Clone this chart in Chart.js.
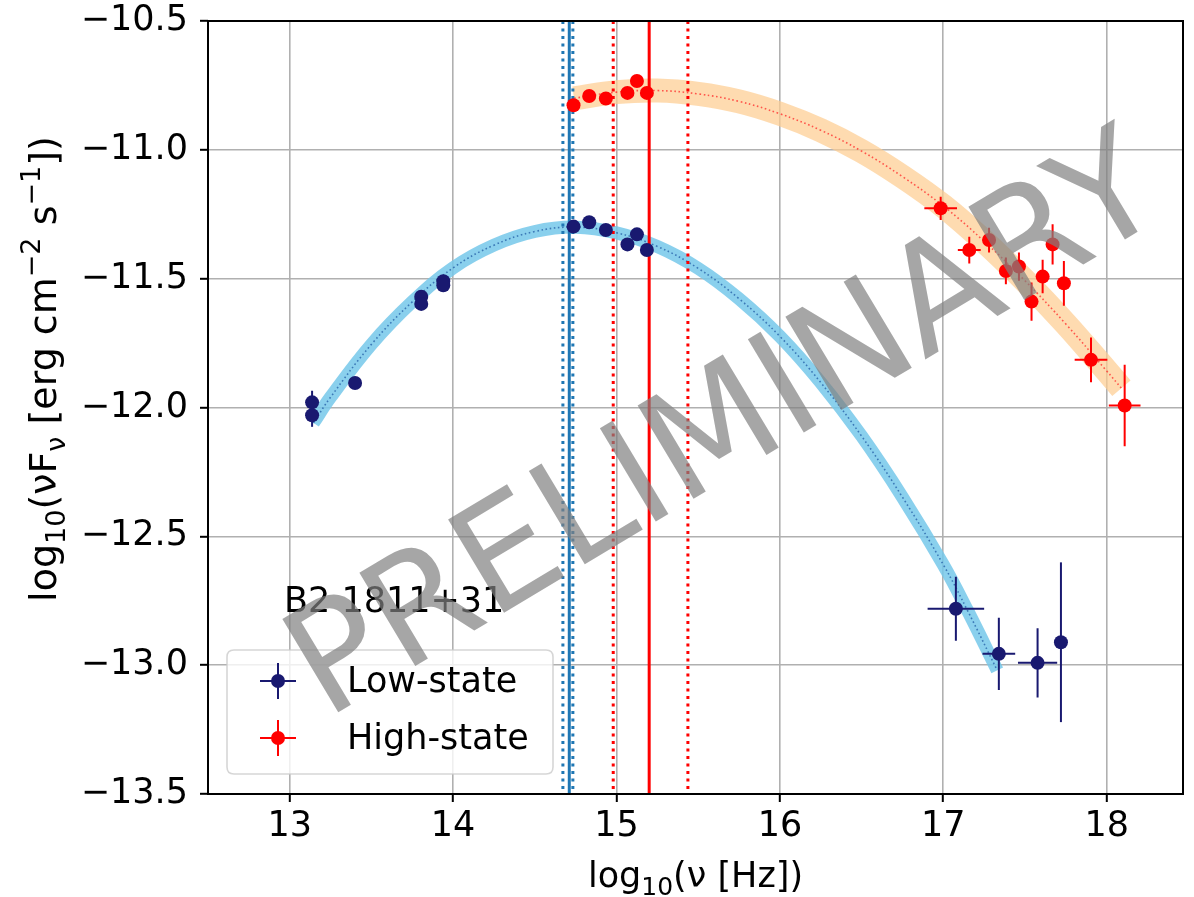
<!DOCTYPE html>
<html>
<head>
<meta charset="utf-8">
<title>B2 1811+31 SED</title>
<script src="https://cdn.jsdelivr.net/npm/chart.js@4.4.1/dist/chart.umd.min.js"></script>
<style>
  html, body { margin: 0; padding: 0; background: #ffffff; }
  canvas { display: block; }
</style>
</head>
<body>
<canvas id="sed" width="1194" height="897" style="width:1194px;height:897px"></canvas>
<script>
// ---- Low-state SED points: log10(nu [Hz]) vs log10(nuFnu [erg cm^-2 s^-1]) ----
const lowNu    = [13.137, 13.137, 13.40, 13.805, 13.805, 13.94, 13.94, 14.737, 14.833, 14.935, 15.067, 15.125, 15.186, 17.077, 17.34, 17.577, 17.72];
const lowFlux  = [-11.98, -12.03, -11.905, -11.57, -11.598, -11.51, -11.526, -11.298, -11.281, -11.311, -11.367, -11.328, -11.389, -12.781, -12.956, -12.991, -12.911];
const lowNuErr = [0, 0, 0, 0, 0, 0, 0, 0, 0, 0, 0, 0, 0, 0.173, 0.10, 0.12, 0];
const lowFlErr = [0.045, 0.045, 0, 0, 0, 0, 0, 0, 0, 0, 0, 0, 0, 0.124, 0.14, 0.134, 0.31];

// ---- High-state SED points ----
const highNu    = [14.737, 14.833, 14.935, 15.067, 15.125, 15.186, 16.984, 17.159, 17.28, 17.383, 17.463, 17.54, 17.608, 17.669, 17.738, 17.904, 18.11];
const highFlux  = [-10.827, -10.791, -10.801, -10.779, -10.733, -10.779, -11.227, -11.389, -11.35, -11.47, -11.453, -11.589, -11.492, -11.367, -11.518, -11.815, -11.992];
const highNuErr = [0, 0, 0, 0, 0, 0, 0.10, 0.07, 0.03, 0.03, 0.03, 0.03, 0.03, 0.03, 0.03, 0.10, 0.097];
const highFlErr = [0, 0, 0, 0, 0, 0, 0.045, 0.052, 0.048, 0.052, 0.055, 0.074, 0.065, 0.078, 0.087, 0.087, 0.158];

// ---- Synchrotron fit curves (sampled along the fitted model) ----
const lowFitNu   = [13.145, 13.25, 13.50, 13.75, 14.00, 14.25, 14.50, 14.75, 15.00, 15.25, 15.50, 15.75, 16.00, 16.25, 16.50, 16.75, 17.00, 17.15, 17.33];
const lowFitFlux = [-12.06, -11.96, -11.755, -11.59, -11.458, -11.37, -11.317, -11.30, -11.322, -11.375, -11.46, -11.578, -11.724, -11.903, -12.111, -12.348, -12.61, -12.79, -13.02];
const highFitNu   = [14.74, 15.00, 15.25, 15.50, 15.75, 16.00, 16.25, 16.50, 16.75, 17.00, 17.25, 17.50, 17.75, 18.00, 18.09];
const highFitFlux = [-10.80, -10.776, -10.77, -10.783, -10.812, -10.86, -10.924, -11.005, -11.104, -11.218, -11.355, -11.508, -11.676, -11.858, -11.925];

// ---- Synchrotron peak frequency (best value, lower, upper) ----
const lowPeak  = [14.711, 14.672, 14.733];
const highPeak = [15.20, 14.98, 15.437];

// ---- Axis ranges and ticks ----
const xRange = [12.5, 18.467];
const yRange = [-13.5, -10.5];
const xTicks = [13, 14, 15, 16, 17, 18];
const yTicks = [-13.5, -13.0, -12.5, -12.0, -11.5, -11.0, -10.5];

const sourceName = 'B2 1811+31';
const seriesNames = ['Low-state', 'High-state'];
const watermark = 'PRELIMINARY';

const FONT = "'DejaVu Sans', 'Liberation Sans', sans-serif";
const LOW_COLOR = '#191970';
const HIGH_COLOR = '#ff0000';

const zip = (xs, ys) => xs.map((x, i) => ({ x, y: ys[i] }));
const vline = v => [{ x: v, y: yRange[1] }, { x: v, y: yRange[0] }];

const datasets = [
  // fit bands
  { label: 'high fit band', data: zip(highFitNu, highFitFlux), showLine: true, pointRadius: 0,
    borderColor: 'rgba(253,205,145,0.72)', borderWidth: 24, borderCapStyle: 'butt', borderJoinStyle: 'round',
    tension: 0.4, order: 20 },
  { label: 'low fit band', data: zip(lowFitNu, lowFitFlux), showLine: true, pointRadius: 0,
    borderColor: 'rgba(118,200,234,0.85)', borderWidth: 13, borderCapStyle: 'butt', borderJoinStyle: 'round',
    tension: 0.4, order: 19 },
  // fit centre lines
  { label: 'high fit', data: zip(highFitNu, highFitFlux), showLine: true, pointRadius: 0,
    borderColor: 'rgba(255,40,40,0.75)', borderWidth: 1.6, borderDash: [1.6, 2.6],
    tension: 0.4, order: 18 },
  { label: 'low fit', data: zip(lowFitNu, lowFitFlux), showLine: true, pointRadius: 0,
    borderColor: 'rgba(40,100,170,0.8)', borderWidth: 1.6, borderDash: [1.6, 2.6],
    tension: 0.4, order: 17 },
  // peak frequency markers
  { label: 'low peak', data: vline(lowPeak[0]), showLine: true, pointRadius: 0,
    borderColor: '#1f77b4', borderWidth: 3, order: 15 },
  { label: 'low peak lo', data: vline(lowPeak[1]), showLine: true, pointRadius: 0,
    borderColor: '#1f77b4', borderWidth: 3, borderDash: [3, 4.5], order: 15 },
  { label: 'low peak hi', data: vline(lowPeak[2]), showLine: true, pointRadius: 0,
    borderColor: '#1f77b4', borderWidth: 3, borderDash: [3, 4.5], order: 15 },
  { label: 'high peak', data: vline(highPeak[0]), showLine: true, pointRadius: 0,
    borderColor: HIGH_COLOR, borderWidth: 3, order: 14 },
  { label: 'high peak lo', data: vline(highPeak[1]), showLine: true, pointRadius: 0,
    borderColor: HIGH_COLOR, borderWidth: 3, borderDash: [3, 4.5], order: 14 },
  { label: 'high peak hi', data: vline(highPeak[2]), showLine: true, pointRadius: 0,
    borderColor: HIGH_COLOR, borderWidth: 3, borderDash: [3, 4.5], order: 14 },
  // measurements
  { label: seriesNames[0], data: zip(lowNu, lowFlux), xErr: lowNuErr, yErr: lowFlErr,
    pointRadius: 7, pointBorderWidth: 0, backgroundColor: LOW_COLOR, borderColor: LOW_COLOR, order: 2 },
  { label: seriesNames[1], data: zip(highNu, highFlux), xErr: highNuErr, yErr: highFlErr,
    pointRadius: 7, pointBorderWidth: 0, backgroundColor: HIGH_COLOR, borderColor: HIGH_COLOR, order: 1 }
];

// error bars drawn just below each measurement series
const errorBars = {
  id: 'errorBars',
  beforeDatasetDraw(chart, args) {
    const ds = chart.data.datasets[args.index];
    if (!ds.xErr) return;
    const { ctx } = chart;
    const xs = chart.scales.x, ys = chart.scales.y;
    ctx.save();
    ctx.strokeStyle = ds.borderColor;
    ctx.lineWidth = 2;
    ds.data.forEach((p, i) => {
      const px = xs.getPixelForValue(p.x), py = ys.getPixelForValue(p.y);
      const ex = ds.xErr[i], ey = ds.yErr[i];
      ctx.beginPath();
      if (ex) { ctx.moveTo(xs.getPixelForValue(p.x - ex), py); ctx.lineTo(xs.getPixelForValue(p.x + ex), py); }
      if (ey) { ctx.moveTo(px, ys.getPixelForValue(p.y - ey)); ctx.lineTo(px, ys.getPixelForValue(p.y + ey)); }
      ctx.stroke();
    });
    ctx.restore();
  }
};

function segFont(s, size) {
  return ((s.sub || s.sup) ? Math.round(size * 0.7) : size) + 'px ' + FONT;
}
function drawRich(ctx, segs, cx, baseline, size) {
  let w = 0;
  for (const s of segs) { ctx.font = segFont(s, size); w += ctx.measureText(s.t).width; }
  let x = cx - w / 2;
  ctx.textAlign = 'left';
  ctx.textBaseline = 'alphabetic';
  for (const s of segs) {
    ctx.font = segFont(s, size);
    const dy = s.sub ? size * 0.24 : (s.sup ? -size * 0.42 : 0);
    ctx.fillText(s.t, x, baseline + dy);
    x += ctx.measureText(s.t).width;
  }
}

function roundRect(ctx, x, y, w, h, r) {
  ctx.beginPath();
  ctx.moveTo(x + r, y);
  ctx.lineTo(x + w - r, y); ctx.quadraticCurveTo(x + w, y, x + w, y + r);
  ctx.lineTo(x + w, y + h - r); ctx.quadraticCurveTo(x + w, y + h, x + w - r, y + h);
  ctx.lineTo(x + r, y + h); ctx.quadraticCurveTo(x, y + h, x, y + h - r);
  ctx.lineTo(x, y + r); ctx.quadraticCurveTo(x, y, x + r, y);
  ctx.closePath();
}

// frame, axis titles, annotation, legend and watermark
const decorations = {
  id: 'decorations',
  afterDatasetsDraw(chart) {
    const { ctx, chartArea: a } = chart;
    ctx.save();
    // axes frame
    ctx.strokeStyle = '#000';
    ctx.lineWidth = 2;
    ctx.strokeRect(a.left, a.top, a.right - a.left, a.bottom - a.top);

    ctx.fillStyle = '#000';
    // x-axis title
    drawRich(ctx, [{ t: 'log' }, { t: '10', sub: true }, { t: '(\u03bd [Hz])' }], (a.left + a.right) / 2, 887, 35);
    // y-axis title
    ctx.save();
    ctx.translate(56, 369);
    ctx.rotate(-Math.PI / 2);
    drawRich(ctx, [
      { t: 'log' }, { t: '10', sub: true }, { t: '(\u03bdF' }, { t: '\u03bd', sub: true },
      { t: ' [erg cm' }, { t: '\u22122', sup: true }, { t: ' s' }, { t: '\u22121', sup: true }, { t: '])' }
    ], 0, 0, 38);
    ctx.restore();

    // source name
    ctx.font = '35px ' + FONT;
    ctx.textAlign = 'left';
    ctx.textBaseline = 'alphabetic';
    ctx.fillText(sourceName, 284, 612);

    // legend box
    roundRect(ctx, 227, 650, 326, 124, 7);
    ctx.fillStyle = 'rgba(255,255,255,0.8)';
    ctx.fill();
    ctx.strokeStyle = 'rgba(204,204,204,0.8)';
    ctx.lineWidth = 1.6;
    ctx.stroke();
    const entries = [[seriesNames[0], LOW_COLOR, 681], [seriesNames[1], HIGH_COLOR, 738]];
    for (const [name, col, yy] of entries) {
      const mx = 278;
      ctx.strokeStyle = col;
      ctx.lineWidth = 2;
      ctx.beginPath();
      ctx.moveTo(mx - 18, yy); ctx.lineTo(mx + 18, yy);
      ctx.moveTo(mx, yy - 18); ctx.lineTo(mx, yy + 18);
      ctx.stroke();
      ctx.fillStyle = col;
      ctx.beginPath(); ctx.arc(mx, yy, 7, 0, Math.PI * 2); ctx.fill();
      ctx.fillStyle = '#000';
      ctx.font = '35px ' + FONT;
      ctx.textBaseline = 'middle';
      ctx.fillText(name, 347, yy + 2);
    }
    ctx.restore();
  },
  afterDraw(chart) {
    const { ctx } = chart;
    ctx.save();
    ctx.translate(748, 466);
    ctx.rotate(-31 * Math.PI / 180);
    ctx.font = '149px ' + FONT;
    ctx.textAlign = 'center';
    ctx.textBaseline = 'alphabetic';
    ctx.fillStyle = 'rgba(128,128,128,0.7)';
    ctx.fillText(watermark, 0, 0);
    ctx.restore();
  }
};

const fmt = v => (v < 0 ? '\u2212' : '') + Math.abs(v).toFixed(1);

new Chart(document.getElementById('sed'), {
  type: 'scatter',
  data: { datasets },
  options: {
    responsive: false,
    animation: false,
    devicePixelRatio: 1,
    layout: { padding: { left: 0, top: 21, right: 11, bottom: 0 } },
    plugins: { legend: { display: false }, tooltip: { enabled: false } },
    scales: {
      x: {
        type: 'linear', min: xRange[0], max: xRange[1],
        afterBuildTicks: ax => { ax.ticks = xTicks.map(v => ({ value: v })); },
        afterFit: ax => { ax.height = 103; ax.paddingLeft = 0; ax.paddingRight = 0; },
        grid: { color: '#b0b0b0', lineWidth: 1.6, drawTicks: true, tickLength: 8, tickColor: '#000', tickWidth: 2 },
        border: { display: false },
        ticks: { color: '#000', font: { family: FONT, size: 35 }, padding: 4, maxRotation: 0, autoSkip: false,
                 callback: v => String(v) }
      },
      y: {
        type: 'linear', min: yRange[0], max: yRange[1],
        afterBuildTicks: ax => { ax.ticks = yTicks.map(v => ({ value: v })); },
        afterFit: ax => { ax.width = 208; ax.paddingTop = 0; ax.paddingBottom = 0; },
        grid: { color: '#b0b0b0', lineWidth: 1.6, drawTicks: true, tickLength: 8, tickColor: '#000', tickWidth: 2 },
        border: { display: false },
        ticks: { color: '#000', font: { family: FONT, size: 35 }, padding: 12, autoSkip: false,
                 callback: v => fmt(v) }
      }
    }
  },
  plugins: [errorBars, decorations]
});
</script>
</body>
</html>
